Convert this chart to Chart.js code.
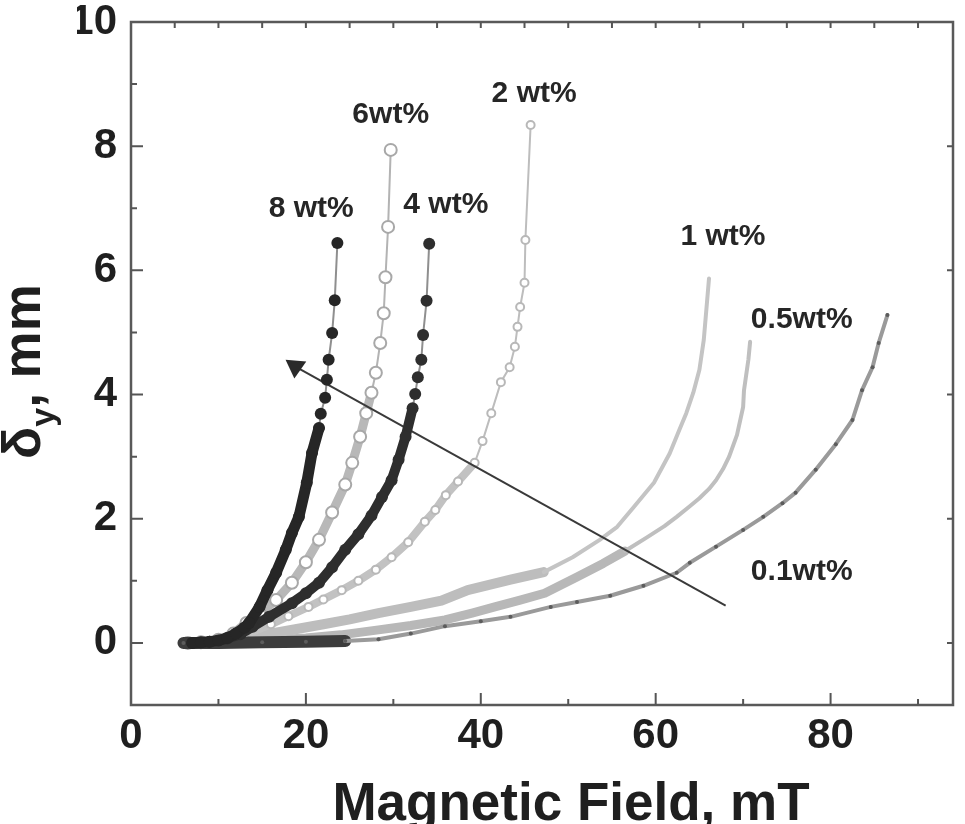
<!DOCTYPE html>
<html>
<head>
<meta charset="utf-8">
<script src="https://cdn.jsdelivr.net/npm/chart.js@4.4.1/dist/chart.umd.min.js"></script>
<style>
  html, body { margin: 0; padding: 0; background: #fff; }
  #wrap { width: 965px; height: 824px; }
</style>
</head>
<body>
<div id="wrap"><canvas id="graf"></canvas></div>
<script>
// values: [magnetic field in mT, deflection in mm]
const wt8 = [[7, 0], [8, 0.01], [9, 0.02], [10, 0.04], [11, 0.08], [12, 0.15], [13, 0.25], [13.5, 0.32], [14.7, 0.58], [15.6, 0.85], [16.6, 1.13], [17.7, 1.5], [18.4, 1.77], [19.2, 2.03], [20.1, 2.58], [20.7, 3.06], [21.5, 3.46], [21.7, 3.69], [22.2, 3.95], [22.4, 4.24], [22.6, 4.56], [23.0, 4.99], [23.3, 5.52], [23.6, 6.44]];
const wt6 = [[6.5, 0], [8, 0.01], [10, 0.05], [11.7, 0.15], [13.2, 0.32], [14.7, 0.48], [16.6, 0.69], [18.4, 0.97], [20, 1.3], [21.5, 1.66], [23, 2.1], [24.5, 2.55], [25.3, 2.9], [26.2, 3.32], [26.9, 3.7], [27.5, 4.03], [28.0, 4.35], [28.5, 4.83], [28.9, 5.31], [29.1, 5.89], [29.4, 6.7], [29.7, 7.94]];
const wt4 = [[7, 0], [9, 0.02], [11, 0.07], [12.5, 0.14], [13.9, 0.26], [15.8, 0.42], [18.4, 0.64], [20, 0.8], [21.5, 0.97], [23, 1.22], [24.5, 1.5], [26, 1.75], [27.5, 2.05], [28.7, 2.35], [29.8, 2.62], [30.6, 2.95], [31.4, 3.32], [32.2, 3.78], [32.5, 4.01], [32.8, 4.28], [33.2, 4.56], [33.4, 4.96], [33.8, 5.51], [34.1, 6.43]];
const wt2 = [[7, 0], [10, 0.04], [13, 0.13], [16, 0.3], [18, 0.43], [20.3, 0.58], [22, 0.7], [24.1, 0.85], [26, 1.0], [28, 1.18], [29.8, 1.38], [31.7, 1.62], [33.6, 1.95], [34.8, 2.14], [36, 2.38], [37.4, 2.6], [39.3, 2.9], [40.2, 3.25], [41.2, 3.7], [42.3, 4.2], [43.3, 4.44], [43.9, 4.77], [44.2, 5.09], [44.5, 5.41], [45.0, 5.8], [45.1, 6.49], [45.7, 8.34]];
const wt1 = [[7, 0], [10, 0.03], [14, 0.1], [18, 0.2], [22, 0.3], [25, 0.38], [28.3, 0.48], [32, 0.58], [35.5, 0.68], [38.5, 0.85], [43.4, 1.02], [47.2, 1.14], [50.5, 1.38], [53.6, 1.66], [55.6, 1.87], [57.5, 2.19], [59.8, 2.58], [61.6, 3.05], [62.7, 3.43], [63.5, 3.7], [64.3, 4.03], [65.0, 4.4], [65.5, 4.88], [66.1, 5.87]];
const wt05 = [[6, 0], [10, 0.01], [15, 0.04], [20, 0.08], [24, 0.13], [28.3, 0.21], [32, 0.28], [35.9, 0.37], [39, 0.48], [41.6, 0.58], [44.5, 0.69], [47.3, 0.8], [51, 1.06], [54, 1.28], [56.5, 1.48], [59, 1.7], [61, 1.88], [62.4, 2.03], [63.9, 2.2], [65, 2.33], [66.1, 2.48], [66.9, 2.62], [67.7, 2.8], [68.4, 3.0], [69.3, 3.35], [70.0, 3.8], [70.1, 4.07], [70.6, 4.56], [70.8, 4.85]];
const wt01 = [[6, 0], [10, 0], [15, 0.01], [20, 0.02], [24.5, 0.03], [28.3, 0.06], [32, 0.15], [35.9, 0.27], [40, 0.35], [43.4, 0.42], [48, 0.58], [51, 0.66], [54.8, 0.76], [58.6, 0.92], [62.4, 1.13], [63.9, 1.29], [66.9, 1.55], [70, 1.82], [72.3, 2.03], [74.5, 2.25], [76, 2.42], [78.3, 2.79], [80.6, 3.2], [82.5, 3.59], [83.6, 4.07], [84.8, 4.44], [85.5, 4.83], [86.5, 5.28]];
const arrowLine = [[68, 0.6], [18.8, 4.45]];

const seriesNames = ["8 wt%", "6wt%", "4 wt%", "2 wt%", "1 wt%", "0.5wt%", "0.1wt%"];
// where each name sits, in data units
const tagPos = [[20.6, 7.0], [29.7, 8.5], [36.0, 7.05], [46.1, 8.85], [67.7, 6.54], [76.7, 5.2], [76.7, 1.14]];
const xTicks = [0, 20, 40, 60, 80];
const yTicks = [0, 2, 4, 6, 8, 10];

const toPts = (arr) => arr.map((p) => ({ x: p[0], y: p[1] }));

// one curve: thick band where the markers crowd, thin line above "cut"
const curve = function (pts, o) {
  return {
    data: toPts(pts),
    showLine: true,
    borderColor: o.color,
    borderWidth: o.thin,
    borderCapStyle: "round",
    borderJoinStyle: "round",
    pointRadius: o.radius,
    pointBorderWidth: o.hollow ? 2 : 0,
    pointBorderColor: o.mark,
    pointBackgroundColor: o.hollow ? "#ffffff" : o.mark,
    segment: {
      borderWidth: (c) => (c.p1.parsed.y < o.low ? o.lowWidth : c.p1.parsed.y < o.cut ? o.thick : o.thin),
      borderColor: (c) => (c.p1.parsed.y < o.low ? o.lowColor : c.p1.parsed.y < o.cut ? o.band : o.color),
    },
    tension: 0,
  };
};

const fontText = "'Liberation Sans', Arial, sans-serif";

const decor = {
  id: "decor",
  afterDraw(chart) {
    const { ctx, chartArea: a, scales } = chart;
    const x = scales.x, y = scales.y;
    ctx.save();
    // frame
    ctx.strokeStyle = "#595959";
    ctx.lineWidth = 2.5;
    ctx.strokeRect(a.left, a.top, a.right - a.left, a.bottom - a.top);

    // inward ticks
    ctx.lineWidth = 2;
    ctx.strokeStyle = "#555";
    ctx.beginPath();
    for (let v = 10; v < x.max; v += 10) {
      const px = x.getPixelForValue(v);
      const len = v % 20 === 0 ? 12 : 6;
      ctx.moveTo(px, a.bottom);
      ctx.lineTo(px, a.bottom - len);
    }
    for (let v = 5; v < x.max; v += 5) {
      const px = x.getPixelForValue(v);
      ctx.moveTo(px, a.top);
      ctx.lineTo(px, a.top + 6);
    }
    for (let v = 0; v < y.max; v += 1) {
      const py = y.getPixelForValue(v);
      const len = v % 2 === 0 ? 12 : 6;
      ctx.moveTo(a.left, py);
      ctx.lineTo(a.left + len, py);
      if (v % 2 === 0) {
        ctx.moveTo(a.right, py);
        ctx.lineTo(a.right - 6, py);
      }
    }
    ctx.stroke();

    // curve names
    ctx.fillStyle = "#262626";
    ctx.font = "bold 30px " + fontText;
    ctx.textAlign = "center";
    ctx.textBaseline = "middle";
    seriesNames.forEach((n, i) => {
      ctx.fillText(n, x.getPixelForValue(tagPos[i][0]), y.getPixelForValue(tagPos[i][1]));
    });

    // x axis title
    ctx.fillStyle = "#1f1f1f";
    ctx.font = "bold 53px " + fontText;
    ctx.textBaseline = "alphabetic";
    ctx.fillText("Magnetic Field, mT", (a.left + a.right) / 2 + 29, 820);

    // y axis title, delta with subscript y
    ctx.translate(40, (a.top + a.bottom) / 2 + 8);
    ctx.rotate(-Math.PI / 2);
    const big = "bold 53px " + fontText;
    const small = "bold 34px " + fontText;
    ctx.font = big;
    const wD = ctx.measureText("δ").width;
    const wR = ctx.measureText(", mm").width;
    ctx.font = small;
    const wY = ctx.measureText("y").width;
    let cx = -(wD + wY + wR) / 2;
    ctx.textAlign = "left";
    ctx.font = big;
    ctx.fillText("δ", cx, 0);
    cx += wD;
    ctx.font = small;
    ctx.fillText("y", cx, 14);
    cx += wY;
    ctx.font = big;
    ctx.fillText(", mm", cx, 0);
    ctx.restore();
  },
};

// datasets listed first are painted on top
const grafico = new Chart(document.querySelector("#graf"), {
  type: "scatter",
  data: {
    datasets: [
      curve(wt8, { color: "#8f8f8f", band: "#262626", lowColor: "#262626", low: 0, lowWidth: 11, thick: 11, thin: 2, cut: 3.5, radius: 6, mark: "#262626" }),
      curve(wt4, { color: "#8f8f8f", band: "#2e2e2e", lowColor: "#2e2e2e", low: 0, lowWidth: 10, thick: 10, thin: 2, cut: 3.9, radius: 6, mark: "#2e2e2e" }),
      {
        data: toPts(arrowLine),
        showLine: true,
        borderColor: "#3a3a3a",
        borderWidth: 2,
        pointRadius: [0, 12],
        pointStyle: "triangle",
        pointRotation: 185,
        pointBackgroundColor: "#2a2a2a",
        pointBorderWidth: 0,
      },
      curve(wt01, { color: "#9a9a9a", band: "#9a9a9a", lowColor: "#3c3c3c", low: 0.04, lowWidth: 12, thick: 4, thin: 4, cut: 0.04, radius: 2, mark: "#5c5c5c" }),
      curve(wt6, { color: "#b3b3b3", band: "#b8b8b8", lowColor: "#b8b8b8", low: 0, lowWidth: 9, thick: 9, thin: 2, cut: 4.1, radius: 6, mark: "#a8a8a8", hollow: true }),
      curve(wt2, { color: "#bdbdbd", band: "#c2c2c2", lowColor: "#c2c2c2", low: 0, lowWidth: 8, thick: 8, thin: 2, cut: 3.0, radius: 4, mark: "#b8b8b8", hollow: true }),
      curve(wt1, { color: "#c4c4c4", band: "#bdbdbd", lowColor: "#bdbdbd", low: 0, lowWidth: 10, thick: 10, thin: 4, cut: 1.2, radius: 0, mark: "#bdbdbd" }),
      curve(wt05, { color: "#bfbfbf", band: "#b8b8b8", lowColor: "#b8b8b8", low: 0, lowWidth: 9, thick: 9, thin: 4, cut: 1.6, radius: 0, mark: "#b8b8b8" }),
    ],
  },
  options: {
    responsive: true,
    maintainAspectRatio: false,
    animation: false,
    layout: { padding: { left: 77, right: 7, top: 22, bottom: 67 } },
    plugins: { legend: { display: false }, tooltip: { enabled: false } },
    scales: {
      x: {
        type: "linear",
        min: 0,
        max: 94,
        grid: { display: false, drawTicks: false },
        border: { display: false },
        afterBuildTicks: (s) => { s.ticks = xTicks.map((v) => ({ value: v })); },
        afterFit: (s) => { s.height = 52; s.paddingLeft = 0; s.paddingRight = 0; },
        ticks: { color: "#1f1f1f", padding: 10, font: { family: fontText, size: 42, weight: "bold", lineHeight: 1 } },
      },
      y: {
        type: "linear",
        min: -1,
        max: 10,
        grid: { display: false, drawTicks: false },
        border: { display: false },
        afterBuildTicks: (s) => { s.ticks = yTicks.map((v) => ({ value: v })); },
        afterFit: (s) => { s.width = 54; s.paddingTop = 0; s.paddingBottom = 0; },
        ticks: { color: "#1f1f1f", padding: 14, font: { family: fontText, size: 42, weight: "bold", lineHeight: 1 } },
      },
    },
  },
  plugins: [decor],
});
</script>
</body>
</html>
